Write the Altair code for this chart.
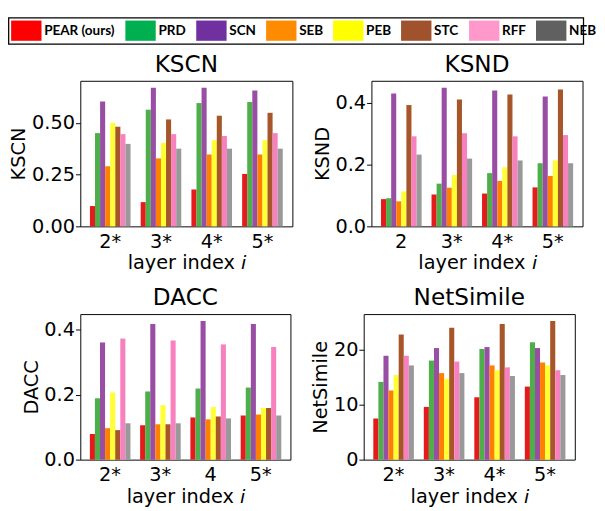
import altair as alt
import pandas as pd

METHODS = ["PEAR (ours)", "PRD", "SCN", "SEB", "PEB", "STC", "RFF", "NEB"]
BAR_COLORS = ["#e41a1c", "#4daf4a", "#984ea3", "#ff7f00", "#ffff33", "#a65628", "#f781bf", "#999999"]
LEGEND_COLORS = ["#ff0000", "#00b050", "#7030a0", "#ff8c00", "#ffff00", "#a0522d", "#ff99cc", "#606060"]

KSCN_LAYERS = ["2*", "3*", "4*", "5*"]
KSCN_VALUES = {
    "PEAR (ours)": [0.098, 0.117, 0.178, 0.253],
    "PRD": [0.450, 0.563, 0.595, 0.600],
    "SCN": [0.603, 0.669, 0.669, 0.656],
    "SEB": [0.290, 0.328, 0.347, 0.347],
    "PEB": [0.500, 0.403, 0.416, 0.416],
    "STC": [0.481, 0.516, 0.534, 0.548],
    "RFF": [0.445, 0.445, 0.436, 0.450],
    "NEB": [0.398, 0.375, 0.375, 0.375],
}

KSND_LAYERS = ["2", "3*", "4*", "5*"]
KSND_VALUES = {
    "PEAR (ours)": [0.088, 0.103, 0.106, 0.126],
    "PRD": [0.091, 0.138, 0.172, 0.204],
    "SCN": [0.429, 0.448, 0.439, 0.420],
    "SEB": [0.081, 0.125, 0.147, 0.163],
    "PEB": [0.113, 0.166, 0.191, 0.213],
    "STC": [0.392, 0.410, 0.426, 0.442],
    "RFF": [0.291, 0.301, 0.291, 0.295],
    "NEB": [0.232, 0.219, 0.213, 0.204],
}

DACC_LAYERS = ["2*", "3*", "4", "5*"]
DACC_VALUES = {
    "PEAR (ours)": [0.079, 0.106, 0.130, 0.136],
    "PRD": [0.189, 0.210, 0.219, 0.222],
    "SCN": [0.361, 0.418, 0.427, 0.418],
    "SEB": [0.097, 0.109, 0.124, 0.139],
    "PEB": [0.207, 0.168, 0.162, 0.159],
    "STC": [0.091, 0.109, 0.133, 0.159],
    "RFF": [0.373, 0.367, 0.355, 0.347],
    "NEB": [0.112, 0.112, 0.127, 0.136],
}

NETSIMILE_LAYERS = ["2*", "3*", "4*", "5*"]
NETSIMILE_VALUES = {
    "PEAR (ours)": [7.46, 9.56, 11.31, 13.24],
    "PRD": [14.1, 17.96, 20.06, 21.28],
    "SCN": [18.83, 20.23, 20.41, 20.23],
    "SEB": [12.54, 15.69, 17.08, 17.61],
    "PEB": [15.34, 14.64, 16.21, 17.08],
    "STC": [22.68, 23.9, 24.6, 25.13],
    "RFF": [18.83, 17.78, 16.73, 16.21],
    "NEB": [17.08, 15.69, 15.16, 15.34],
}

X_TITLE = "layer index \U0001D62A"
BOX_LEFT = -75  # legend frame start, relative to the left plot edge
BOX_H = 28


def panel(title, layers, values, ticks, fmt, width):
    rows = [
        {"layer": layer, "method": m, "value": v}
        for m in METHODS
        for layer, v in zip(layers, values[m])
    ]
    df = pd.DataFrame(rows)
    ymax = max(max(v) for v in values.values()) * 1.05
    return alt.Chart(df).mark_bar().encode(
        x=alt.X(
            "layer:N",
            sort=layers,
            scale=alt.Scale(paddingInner=0.2, paddingOuter=0.19),
            axis=alt.Axis(title=X_TITLE, labelAngle=0),
        ),
        xOffset=alt.XOffset("method:N", sort=METHODS,
                            scale=alt.Scale(domain=METHODS, paddingInner=0, paddingOuter=0)),
        y=alt.Y(
            "value:Q",
            scale=alt.Scale(domain=[0, ymax], nice=False, zero=True),
            axis=alt.Axis(title=title, values=ticks, format=fmt),
        ),
        fill=alt.Fill("method:N", sort=METHODS,
                      scale=alt.Scale(domain=METHODS, range=BAR_COLORS), legend=None),
    ).properties(width=width, height=151, title=alt.TitleParams(title, frame="group"))


LEGEND_W = 520
legend_df = pd.DataFrame({"method": METHODS})
legend_keys = alt.Chart(legend_df).mark_square(opacity=0, size=0).encode(
    x=alt.X("method:N", sort=METHODS, axis=None),
    color=alt.Color(
        "method:N", sort=METHODS,
        scale=alt.Scale(domain=METHODS, range=LEGEND_COLORS),
        legend=alt.Legend(
            title=None, orient="none", legendX=BOX_LEFT + 8.5, legendY=3.5,
            direction="horizontal",
            symbolType="M-1.5,-1H1.5V1H-1.5Z", symbolSize=441,
            symbolStrokeWidth=0, symbolOpacity=1,
            labelFont="Lato", labelFontSize=14, labelFontWeight="bold",
            labelColor="black", labelOffset=8, columnPadding=9.5, padding=0,
        ),
    ),
)
legend_box = alt.Chart(pd.DataFrame({"frame": [0]})).mark_rect(
    fill="transparent", stroke="black", strokeWidth=1.3
).encode(
    x=alt.value(BOX_LEFT + 0.7), x2=alt.value(LEGEND_W + 2),
    y=alt.value(0.7), y2=alt.value(BOX_H),
)
legend_chart = alt.layer(legend_box, legend_keys).properties(
    width=LEGEND_W, height=BOX_H, view=alt.ViewBackground(strokeOpacity=0)
)

p1 = panel("KSCN", KSCN_LAYERS, KSCN_VALUES, [0, 0.25, 0.5], ".2f", 220)
p2 = panel("KSND", KSND_LAYERS, KSND_VALUES, [0, 0.2, 0.4], ".1f", 219)
p3 = panel("DACC", DACC_LAYERS, DACC_VALUES, [0, 0.2, 0.4], ".1f", 218)
p4 = panel("NetSimile", NETSIMILE_LAYERS, NETSIMILE_VALUES, [0, 10, 20], "d", 219)

row1 = alt.hconcat(p1, p2, spacing=19)
row2 = alt.hconcat(p3, p4, spacing=20)
grid = alt.vconcat(row1, row2, spacing=13)

chart = (
    alt.vconcat(legend_chart, grid, spacing=8)
    .resolve_scale(color="independent")
    .properties(padding={"left": 0, "top": 0, "right": 0, "bottom": 2})
    .configure_view(stroke="black", strokeWidth=1)
    .configure_axis(
        domain=False, grid=False,
        labelFont="DejaVu Sans", labelFontSize=20, labelColor="black",
        titleFont="DejaVu Sans", titleFontSize=20, titleFontWeight="normal",
        titleColor="black", tickColor="black", tickSize=5,
    )
    .configure_axisX(ticks=False, tickSize=0, labelPadding=6, titlePadding=2)
    .configure_axisY(labelPadding=1, titlePadding=3)
    .configure_title(font="DejaVu Sans", fontSize=24, fontWeight="normal",
                     color="black", offset=4, baseline="alphabetic")
)

chart.save("out.html", embed_options={"renderer": "svg", "actions": False})
